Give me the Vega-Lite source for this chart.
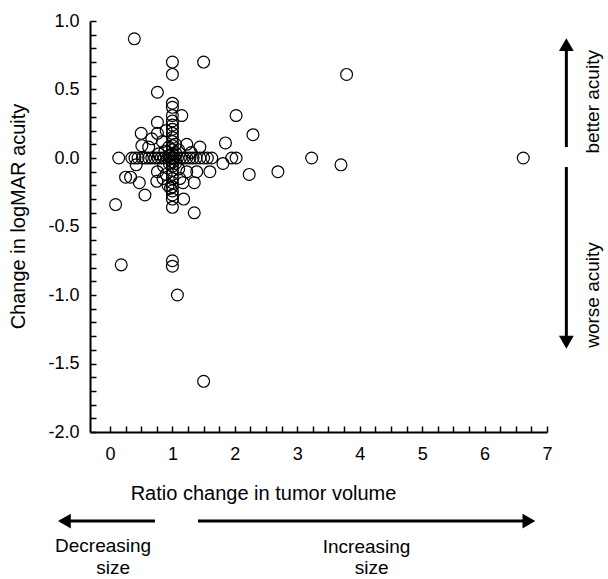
{
  "$schema": "https://vega.github.io/schema/vega-lite/v6.json",
  "autosize": {"type": "none"},
  "width": 457,
  "height": 411,
  "padding": {"left": 90, "top": 21, "right": 61, "bottom": 147},
  "background": "white",
  "config": {
    "view": {"stroke": null},
    "font": "Liberation Sans",
    "axis": {"grid": false, "domainColor": "black", "tickColor": "black", "labelColor": "black", "titleColor": "black", "labelFont": "Liberation Sans", "titleFont": "Liberation Sans", "titleFontWeight": "normal"}
  },
  "datasets": {
    "pts": [
      {"x":0.39,"y":0.87},{"x":1.0,"y":0.70},{"x":1.5,"y":0.70},{"x":1.0,"y":0.61},{"x":0.76,"y":0.48},
      {"x":1.0,"y":0.40},{"x":1.0,"y":0.37},{"x":1.15,"y":0.31},{"x":1.0,"y":0.31},{"x":2.02,"y":0.31},
      {"x":0.76,"y":0.26},{"x":1.0,"y":0.27},{"x":1.0,"y":0.24},{"x":1.0,"y":0.21},{"x":0.9,"y":0.2},
      {"x":2.29,"y":0.17},{"x":0.5,"y":0.18},{"x":0.76,"y":0.18},{"x":0.67,"y":0.14},{"x":0.84,"y":0.12},
      {"x":1.0,"y":0.18},{"x":1.0,"y":0.15},{"x":1.0,"y":0.12},{"x":1.05,"y":0.1},{"x":1.23,"y":0.1},
      {"x":1.85,"y":0.11},{"x":0.51,"y":0.09},{"x":1.44,"y":0.08},{"x":0.62,"y":0.08},{"x":0.94,"y":0.08},
      {"x":1.0,"y":0.09},{"x":1.1,"y":0.06},{"x":0.88,"y":0.05},{"x":1.0,"y":0.06},{"x":1.0,"y":0.03},
      {"x":1.06,"y":0.03},{"x":0.95,"y":0.02},{"x":0.78,"y":0.03},{"x":1.3,"y":0.04},
      {"x":0.14,"y":0},{"x":0.35,"y":0},{"x":0.40,"y":0},{"x":0.45,"y":0},{"x":0.52,"y":0},{"x":0.57,"y":0},
      {"x":0.62,"y":0},{"x":0.67,"y":0},{"x":0.72,"y":0},{"x":0.77,"y":0},{"x":0.82,"y":0},{"x":0.87,"y":0},
      {"x":0.92,"y":0},{"x":0.97,"y":0},{"x":1.0,"y":0},{"x":1.03,"y":0},{"x":1.08,"y":0},{"x":1.13,"y":0},
      {"x":1.18,"y":0},{"x":1.23,"y":0},{"x":1.28,"y":0},{"x":1.33,"y":0},{"x":1.38,"y":0},{"x":1.44,"y":0},
      {"x":1.5,"y":0},{"x":1.56,"y":0},{"x":1.63,"y":0},{"x":1.95,"y":0},{"x":2.02,"y":0},{"x":3.23,"y":0},
      {"x":6.62,"y":0},
      {"x":0.42,"y":-0.05},{"x":1.0,"y":-0.03},{"x":0.95,"y":-0.04},{"x":1.05,"y":-0.04},{"x":1.0,"y":-0.06},
      {"x":0.86,"y":-0.06},{"x":1.81,"y":-0.04},{"x":3.70,"y":-0.05},{"x":1.0,"y":-0.09},{"x":0.76,"y":-0.10},
      {"x":1.23,"y":-0.10},{"x":1.39,"y":-0.10},{"x":1.6,"y":-0.10},{"x":2.69,"y":-0.10},{"x":1.0,"y":-0.12},
      {"x":0.9,"y":-0.12},{"x":2.23,"y":-0.12},{"x":0.25,"y":-0.14},{"x":0.33,"y":-0.14},{"x":1.0,"y":-0.15},
      {"x":0.75,"y":-0.17},{"x":0.47,"y":-0.18},{"x":1.17,"y":-0.18},{"x":1.35,"y":-0.18},{"x":1.0,"y":-0.18},
      {"x":0.93,"y":-0.2},{"x":1.0,"y":-0.21},{"x":0.97,"y":-0.22},{"x":1.0,"y":-0.24},{"x":0.56,"y":-0.27},
      {"x":1.0,"y":-0.27},{"x":1.0,"y":-0.30},{"x":1.18,"y":-0.30},{"x":0.09,"y":-0.34},{"x":1.0,"y":-0.36},
      {"x":1.35,"y":-0.40},{"x":0.18,"y":-0.78},{"x":1.0,"y":-0.75},{"x":1.0,"y":-0.79},{"x":1.08,"y":-1.0},
      {"x":1.5,"y":-1.63},{"x":3.79,"y":0.61},{"x":1.1,"y":-0.08},{"x":1.12,"y":-0.15},{"x":0.85,"y":-0.15}
    ],
    "lines": [
      {"x":0.72,"y":-2.65,"x2":-0.75,"y2":-2.65},
      {"x":1.41,"y":-2.65,"x2":6.75,"y2":-2.65},
      {"x":7.31,"y":0.08,"x2":7.31,"y2":0.80},
      {"x":7.31,"y":-0.066,"x2":7.31,"y2":-1.32}
    ],
    "heads": [
      {"dir":"left","x":-0.73,"y":-2.65},
      {"dir":"right","x":6.71,"y":-2.65},
      {"dir":"up","x":7.31,"y":0.828},
      {"dir":"down","x":7.31,"y":-1.345}
    ],
    "labels": [
      {"side":"bottom","text":"Decreasing","x":-0.11,"y":-2.832},
      {"side":"bottom","text":"size","x":0.05,"y":-2.993},
      {"side":"bottom","text":"Increasing","x":4.11,"y":-2.839},
      {"side":"bottom","text":"size","x":4.19,"y":-2.993},
      {"side":"right","text":"better acuity","x":7.73,"y":0.41},
      {"side":"right","text":"worse acuity","x":7.73,"y":-1.0}
    ]
  },
  "encoding": {
    "x": {
      "field": "x", "type": "quantitative",
      "scale": {"domain": [-0.32, 7], "nice": false, "zero": false},
      "axis": {
        "title": "Ratio change in tumor volume",
        "values": [0,0.25,0.5,0.75,1,1.25,1.5,1.75,2,2.25,2.5,2.75,3,3.25,3.5,3.75,4,4.25,4.5,4.75,5,5.25,5.5,5.75,6,6.25,6.5,6.75,7],
        "labelExpr": "datum.value % 1 === 0 ? format(datum.value, 'd') : ''",
        "domainWidth": 2,
        "ticks": true,
        "tickWidth": 1.5,
        "tickSize": -6,
        "labelFontSize": 18,
        "labelPadding": 19,
        "labelFlush": false,
        "labelOverlap": false,
        "titleFontSize": 20,
        "titleX": 173,
        "titleY": 61,
        "titleAlign": "center",
        "titleBaseline": "middle"
      }
    },
    "y": {
      "field": "y", "type": "quantitative",
      "scale": {"domain": [-2, 1], "nice": false, "zero": false},
      "axis": {
        "title": "Change in logMAR acuity",
        "values": [-2,-1.9,-1.8,-1.7,-1.6,-1.5,-1.4,-1.3,-1.2,-1.1,-1,-0.9,-0.8,-0.7,-0.6,-0.5,-0.4,-0.3,-0.2,-0.1,0,0.1,0.2,0.3,0.4,0.5,0.6,0.7,0.8,0.9,1],
        "labelExpr": "abs(datum.value*2 - round(datum.value*2)) < 0.001 ? replace(format(datum.value, '.1f'), '\u2212', '-') : ''",
        "domainWidth": 2,
        "ticks": true,
        "tickWidth": 1.5,
        "tickSize": -6,
        "labelFontSize": 18,
        "labelPadding": 17,
        "labelFlush": false,
        "labelOverlap": false,
        "titleFontSize": 20,
        "titleX": -72,
        "titleY": 195,
        "titleAngle": -90,
        "titleAlign": "center",
        "titleBaseline": "middle"
      }
    }
  },
  "layer": [
    {
      "data": {"name": "pts"},
      "mark": {"type": "point", "filled": false, "stroke": "black", "strokeWidth": 1.2, "size": 140, "opacity": 1}
    },
    {
      "data": {"name": "lines"},
      "mark": {"type": "rule", "color": "black", "strokeWidth": 3, "clip": false},
      "encoding": {"x2": {"field": "x2"}, "y2": {"field": "y2"}}
    },
    {
      "data": {"name": "heads"},
      "transform": [{"filter": "datum.dir === 'left'"}],
      "mark": {"type": "point", "shape": "triangle-left", "filled": true, "color": "black", "size": 220, "opacity": 1, "clip": false}
    },
    {
      "data": {"name": "heads"},
      "transform": [{"filter": "datum.dir === 'right'"}],
      "mark": {"type": "point", "shape": "triangle-right", "filled": true, "color": "black", "size": 220, "opacity": 1, "clip": false}
    },
    {
      "data": {"name": "heads"},
      "transform": [{"filter": "datum.dir === 'up'"}],
      "mark": {"type": "point", "shape": "triangle-up", "filled": true, "color": "black", "size": 220, "opacity": 1, "clip": false}
    },
    {
      "data": {"name": "heads"},
      "transform": [{"filter": "datum.dir === 'down'"}],
      "mark": {"type": "point", "shape": "triangle-down", "filled": true, "color": "black", "size": 220, "opacity": 1, "clip": false}
    },
    {
      "data": {"name": "labels"},
      "transform": [{"filter": "datum.side === 'bottom'"}],
      "mark": {"type": "text", "fontSize": 19, "font": "Liberation Sans", "color": "black", "align": "center", "baseline": "middle", "clip": false},
      "encoding": {"text": {"field": "text"}}
    },
    {
      "data": {"name": "labels"},
      "transform": [{"filter": "datum.side === 'right'"}],
      "mark": {"type": "text", "fontSize": 19, "font": "Liberation Sans", "color": "black", "align": "center", "baseline": "middle", "angle": 270, "clip": false},
      "encoding": {"text": {"field": "text"}}
    }
  ]
}
